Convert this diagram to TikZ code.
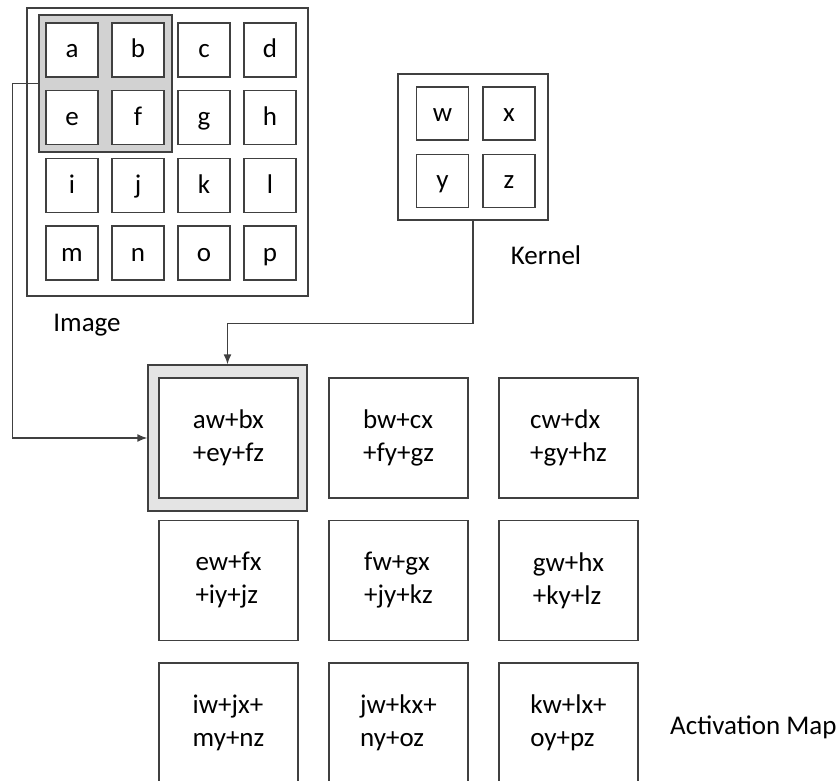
\documentclass[tikz,border=0pt]{standalone}
\usepackage{fontspec}
\setmainfont{Carlito}
\usetikzlibrary{arrows.meta}
\definecolor{edge}{HTML}{404040}
\definecolor{hlgray}{HTML}{D2D2D2}
\definecolor{mapgray}{HTML}{E4E4E4}
\begin{document}
\begin{tikzpicture}[x=1pt,y=-1pt,
  box/.style={draw=edge,line width=1.4pt,inner sep=0pt},
  cell/.style={box,fill=white,minimum width=52pt,minimum height=54pt,
    text height=18pt,text depth=2pt},
  mapcell/.style={box,fill=white,minimum width=139pt,minimum height=120pt,align=left},
  lbl/.style={inner sep=0pt},
  link/.style={draw=edge,line width=1.4pt,-{Latex[length=10pt,width=8pt]}},
  font=\fontsize{27}{33}\selectfont]
\useasboundingbox (0,0) rectangle (839,781);
%
% image with its 4x4 cells
\node[box,minimum width=281pt,minimum height=288pt] (img) at (167.5,152) {};
\node[box,fill=hlgray,minimum width=133pt,minimum height=137pt] (hl) at (105.5,83.5) {};
\foreach \t [count=\i from 0] in {a,...,p}{
  \pgfmathtruncatemacro\c{mod(\i,4)}
  \pgfmathtruncatemacro\r{\i/4}
  \node[cell] (c\t) at (72+66*\c,50+67.7*\r) {\t};
}
\node[lbl] (imglabel) at (87,325) {Image};
%
% kernel
\node[box,minimum width=150pt,minimum height=146pt] (ker) at (473,147) {};
\node[cell,minimum height=53pt] (kw) at (442.5,113.5) {w};
\node[cell,minimum height=53pt] (kx) at (509,113.5) {x};
\node[cell,minimum height=53pt] (ky) at (442.5,181) {y};
\node[cell,minimum height=53pt] (kz) at (509,181) {z};
\node[lbl] (kerlabel) at (546,255) {Kernel};
%
% activation map
\node[box,fill=mapgray,minimum width=159pt,minimum height=146pt] (act) at (227.5,438) {};
\foreach \t [count=\i from 0] in {{aw+bx\\+ey+fz},{bw+cx\\+fy+gz},{cw+dx\\+gy+hz},
  {ew+fx\\+iy+jz},{fw+gx\\+jy+kz},{gw+hx\\+ky+lz},
  {iw+jx+\\my+nz},{jw+kx+\\ny+oz},{kw+lx+\\oy+pz}}{
  \pgfmathtruncatemacro\c{mod(\i,3)}
  \pgfmathtruncatemacro\r{\i/3}
  \node[mapcell] (m\i) at (228.5+170*\c,438+142.5*\r) {\t};
}
\node[lbl,anchor=west] (actlabel) at (670,727) {Activation Map};
%
% connectors
\draw[link] (hl.west) -- ++(-26,0) |- (act.west);
\draw[link] (ker.south) -- ++(0,103) -| (act.north);
\end{tikzpicture}
\end{document}
